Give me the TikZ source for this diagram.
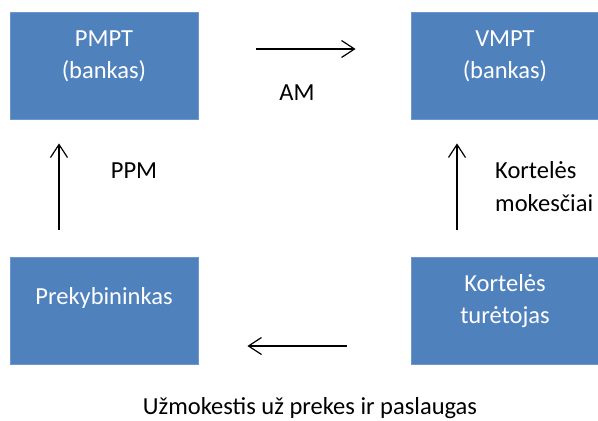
\documentclass[tikz,border=0pt]{standalone}
\usepackage{fontspec}
\setmainfont{Carlito}
\usetikzlibrary{arrows.meta,positioning,calc}
\usepackage{xcolor}
\definecolor{boxblue}{HTML}{4F81BD}
\definecolor{boxline}{HTML}{6F97CC}

\begin{document}
\begin{tikzpicture}[
    x=1pt, y=1pt,
    box/.style={rectangle, draw=boxline, line width=0.8pt, fill=boxblue,
                minimum width=188pt, minimum height=107pt, inner sep=0pt},
    boxtext/.style={anchor=base, align=center, text=white, inner sep=0pt,
                font=\fontsize{24.5}{32}\selectfont},
    lbl/.style={anchor=base, align=left, inner sep=0pt,
                font=\fontsize{24.5}{33}\selectfont},
    arrow/.style={-{Straight Barb[length=13pt, width=17pt]}, line width=1.2pt},
  ]
    \useasboundingbox (0,0) rectangle (598,-421);

    % boxes
    \node[box] (pmpt) at (104,-65.5) {};
    \node[box] (vmpt) at (505,-65.5) {};
    \node[box] (prek) at (104,-311) {};
    \node[box] (kort) at (505,-311) {};

    % box texts (base = last line)
    \node[boxtext] (pmpt-t) at (104,-78) {PMPT\\(bankas)};
    \node[boxtext] (vmpt-t) at (505,-78) {VMPT\\(bankas)};
    \node[boxtext] (prek-t) at (104,-304) {Prekybininkas};
    \node[boxtext] (kort-t) at (505,-323) {Kortelės\\turėtojas};

    % connectors
    \draw[arrow] ([xshift=58pt,yshift=16.5pt]pmpt.east) -- ([xshift=-55pt,yshift=16.5pt]vmpt.west);
    \draw[arrow] ([xshift=-45pt,yshift=27pt]prek.north) -- ([xshift=-45pt,yshift=-24pt]pmpt.south);
    \draw[arrow] ([xshift=-48pt,yshift=27pt]kort.north) -- ([xshift=-48pt,yshift=-24pt]vmpt.south);
    \draw[arrow] ([xshift=-64pt,yshift=-35pt]kort.west) -- ([xshift=49pt,yshift=-35pt]prek.east);

    % labels
    \node[lbl, anchor=base] (am) at (297,-100) {AM};
    \node[lbl, anchor=base] (ppm) at (134,-178) {PPM};
    \node[lbl, anchor=base west] (mok) at (495,-211) {Kortelės\\mokesčiai};
    \node[lbl, anchor=base] (uzm) at (310,-414) {Užmokestis už prekes ir paslaugas};
  \end{tikzpicture}
\end{document}
